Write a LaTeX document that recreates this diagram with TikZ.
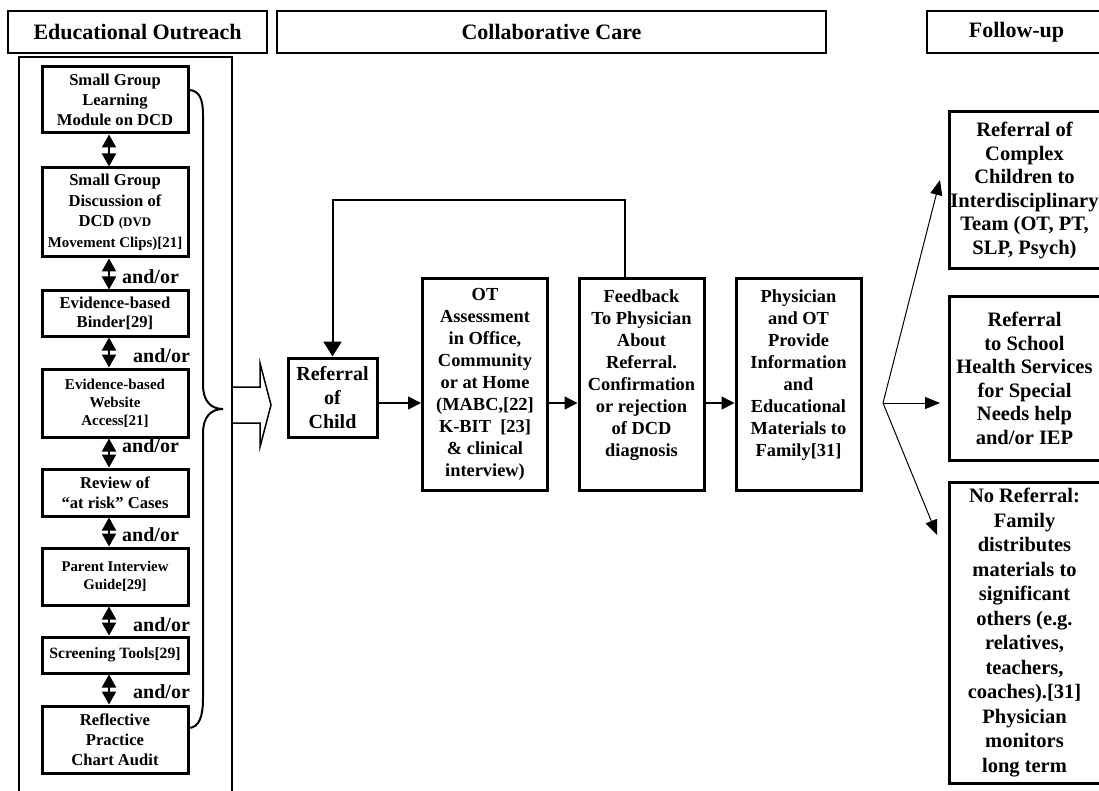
\documentclass[tikz,border=0pt]{standalone}
\usepackage{fontspec}
\setmainfont{Liberation Serif}
\usetikzlibrary{arrows.meta}

\begin{document}
\begin{tikzpicture}[x=1pt, y=-1pt,
    hdr/.style={draw, line width=1.5pt, minimum height=42pt, inner sep=0pt, font=\fontsize{22}{26}\selectfont\bfseries},
    lbox/.style={draw, line width=3pt, minimum width=146pt, inner sep=0pt, align=center},
    mbox/.style={draw, line width=3pt, minimum width=125pt, minimum height=211pt, inner sep=0pt, align=center, font=\fontsize{18.4}{22}\selectfont\bfseries},
    rbox/.style={draw, line width=3pt, minimum width=151pt, inner sep=0pt, align=center, font=\fontsize{20.5}{23.5}\selectfont\bfseries},
    andor/.style={anchor=west, inner sep=0pt, font=\fontsize{20}{24}\selectfont\bfseries},
    dbl/.style={{Triangle[length=13pt,width=14pt]}-{Triangle[length=13pt,width=14pt]}, line width=2.2pt},
    arr/.style={-{Triangle[length=13pt,width=13pt]}, line width=1.5pt},
    fanarr/.style={-{Triangle[length=15pt,width=12pt]}, line width=1pt}]
    \useasboundingbox (0,0) rectangle (1099,791);
    \fill[white] (0,0) rectangle (1099,791);

    \node[hdr, minimum width=259pt] (hedu) at (137.5,32) {Educational Outreach};
    \node[hdr, minimum width=549pt] (hcol) at (551.5,32) {Collaborative Care};
    \node[hdr, minimum width=179pt] (hfol) at (1016.5,32) {Follow-up};

    \draw[line width=2.5pt] (19,57) rectangle (232,800);

    \node[lbox, minimum height=66pt, font=\fontsize{16.6}{20}\selectfont\bfseries] (b1) at (115,100) {Small Group\\Learning\\Module on DCD};
    \node[lbox, minimum height=89pt, font=\fontsize{16.6}{20.5}\selectfont\bfseries] (b2) at (115,212.5) {Small Group\\Discussion of\\DCD {\fontsize{13}{20.5}\selectfont(DVD}\\{\fontsize{14.9}{20.5}\selectfont Movement Clips)[21]}};
    \node[lbox, minimum height=45pt, font=\fontsize{16.6}{19}\selectfont\bfseries] (b3) at (115,313.5) {Evidence-based\\Binder[29]};
    \node[lbox, minimum height=68pt, font=\fontsize{15}{18}\selectfont\bfseries] (b4) at (115,403) {Evidence-based\\Website\\Access[21]};
    \node[lbox, minimum height=47pt, font=\fontsize{16.6}{20}\selectfont\bfseries] (b5) at (115,492.5) {Review of\\``at risk'' Cases};
    \node[lbox, minimum height=57pt, font=\fontsize{14.8}{18}\selectfont\bfseries] (b6) at (115,576.5) {Parent Interview\\Guide[29]};
    \node[lbox, minimum height=36pt, font=\fontsize{15.7}{19}\selectfont\bfseries] (b7) at (115,655) {Screening Tools[29]};
    \node[lbox, minimum height=67pt, font=\fontsize{16.6}{20}\selectfont\bfseries] (b8) at (115,739.5) {Reflective\\Practice\\Chart Audit};

    \foreach \a/\b in {b1/b2, b2/b3, b3/b4, b4/b5, b5/b6, b6/b7, b7/b8}
        \draw[dbl] ([xshift=-6pt]\a.south) -- ([xshift=-6pt]\b.north);

    \node[andor] (ao1) at (122,277) {and/or};
    \node[andor] (ao2) at (133,356) {and/or};
    \node[andor] (ao3) at (122,446) {and/or};
    \node[andor] (ao4) at (122,535) {and/or};
    \node[andor] (ao5) at (133,625) {and/or};
    \node[andor] (ao6) at (133,692) {and/or};

    \draw[line width=2pt] (188,90) .. controls (200,90) and (203,100) .. (203,115) -- (203,385)
        .. controls (203,400) and (210,409) .. (223,409)
        .. controls (210,409) and (203,418) .. (203,433) -- (203,698)
        .. controls (203,715) and (200,728) .. (188,728);
    \draw[line width=1.5pt] (232,387) -- (260,387) -- (260,363) -- (271,405) -- (260,447) -- (260,423) -- (232,423);

    \node[draw, line width=3pt, minimum width=89pt, minimum height=79pt, inner sep=0pt, align=center, font=\fontsize{20}{24}\selectfont\bfseries] (ref) at (332.5,397.5) {Referral\\of\\Child};
    \node[mbox] (ot) at (485,384.5) {OT\\Assessment\\in Office,\\Community\\or at Home\\(MABC,[22]\\K-BIT\ \ [23]\\\& clinical\\interview)};
    \node[mbox] (fb) at (641.5,384.5) {Feedback\\To Physician\\About\\Referral.\\Confirmation\\or rejection\\of DCD\\diagnosis\\ };
    \node[mbox] (ph) at (798.5,384.5) {Physician\\and OT\\Provide\\Information\\and\\Educational\\Materials to\\Family[31]\\ };

    \draw[arr] (ref.east |- 0,403) -- (ot.west |- 0,403);
    \draw[arr] (ot.east |- 0,403) -- (fb.west |- 0,403);
    \draw[arr] (fb.east |- 0,403) -- (ph.west |- 0,403);
    \draw[line width=2pt, -{Triangle[length=15pt,width=18pt]}] ([xshift=-16.5pt]fb.north) -- ++(0,-77) -| (ref.north);

    \node[rbox, minimum height=157pt] (r1) at (1024.5,190.5) {Referral of\\Complex\\Children to\\Interdisciplinary\\Team (OT, PT,\\SLP, Psych)};
    \node[rbox, minimum height=163pt] (r2) at (1024.5,378.5) {Referral\\to School\\Health Services\\for Special\\Needs help\\and/or IEP};
    \node[rbox, minimum height=301pt, font=\fontsize{20.5}{24.5}\selectfont\bfseries] (r3) at (1024.5,632.5) {No Referral:\\Family\\distributes\\materials to\\significant\\others (e.g.\\relatives,\\teachers,\\coaches).[31]\\Physician\\monitors\\long term};

    \coordinate (fan) at (883,403);
    \coordinate (t1) at (940,180);
    \coordinate (t2) at (940,403);
    \coordinate (t3) at (937,535);
    \draw[fanarr] (fan) -- (t1);
    \draw[fanarr] (fan) -- (t2);
    \draw[fanarr] (fan) -- (t3);
\end{tikzpicture}
\end{document}
